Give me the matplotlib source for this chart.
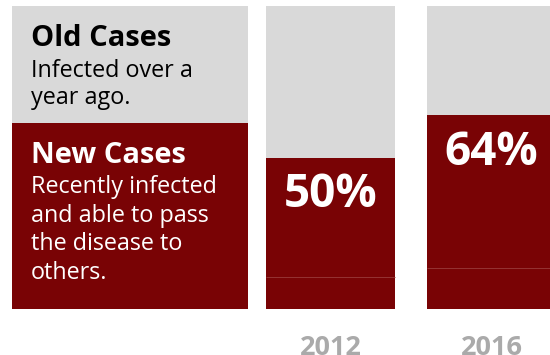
import numpy as np
import matplotlib.pyplot as plt

# === DATA ===
years = ["2012", "2016"]
new_share = [50, 64]          # % of cases that are new
old_share = [100 - v for v in new_share]
seam = [10.5, 13.5]           # faint seam inside the red bars
legend_new = 61.5             # split of the legend block
old_title = "Old Cases"
old_text = ["Infected over a", "year ago."]
new_title = "New Cases"
new_text = ["Recently infected", "and able to pass", "the disease to", "others."]

# === STYLE ===
RED = "#790305"
GRAY = "#d9d9d9"
plt.rcParams["font.family"] = ["Open Sans", "DejaVu Sans"]

W, H = 550, 355
fig = plt.figure(figsize=(W / 100, H / 100), dpi=100)
ax = fig.add_axes([0, 0, 1, 1])

# y: value 0 at pixel 309, 100 at pixel 6
px = 303 / 100
def ypx(p):
    return (309 - p) / px

ax.set_xlim(0, W)
ax.set_ylim(ypx(H), ypx(0))
ax.axis("off")

# === LEGEND BLOCK ===
lx, lw = 12, 236
ax.bar(lx, legend_new, width=lw, align="edge", color=RED)
ax.bar(lx, 100 - legend_new, bottom=legend_new, width=lw, align="edge", color=GRAY)

tx = 31
ax.text(tx, ypx(46), old_title, fontsize=21, fontweight="bold", color="black", va="baseline")
for i, line in enumerate(old_text):
    ax.text(tx, ypx(77 + 27.5 * i), line, fontsize=16.8, color="black", va="baseline")
ax.text(tx, ypx(163), new_title, fontsize=21, fontweight="bold", color="white", va="baseline")
for i, line in enumerate(new_text):
    ax.text(tx, ypx(193 + 28.7 * i), line, fontsize=16.8, color="white", va="baseline")

# === BARS ===
bx = [266, 427]
bw = 129
ax.bar(bx, new_share, width=bw, align="edge", color=RED)
ax.bar(bx, old_share, bottom=new_share, width=bw, align="edge", color=GRAY)
for x, s in zip(bx, seam):
    ax.hlines(s, x, x + bw, color="#9a3a3a", linewidth=0.6)

for x, v, yr in zip(bx, new_share, years):
    ax.text(x + bw / 2, v - 16.5, f"{v}%", fontsize=33, fontweight="bold",
            color="white", ha="center", va="baseline")
    ax.text(x + bw / 2, ypx(355), yr, fontsize=19.5, fontweight="bold",
            color="#aaaaaa", ha="center", va="baseline")

fig.savefig("out.png", dpi=100)
